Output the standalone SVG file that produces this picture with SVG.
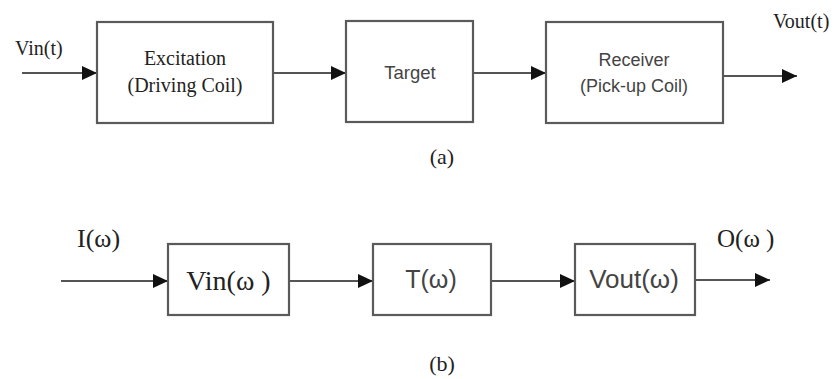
<svg xmlns="http://www.w3.org/2000/svg" width="836" height="379" viewBox="0 0 836 379">
<defs>
<marker id="arr" markerUnits="userSpaceOnUse" markerWidth="16" markerHeight="14" refX="15" refY="7" orient="auto">
<path d="M0,0 L15,7 L0,14 Z" fill="#111"/>
</marker>
<style>
.box{fill:#fff;stroke:#5a5a5a;stroke-width:2.2}
.ln{fill:none;stroke:#555;stroke-width:2.2;marker-end:url(#arr)}
.dk{fill:#222}
.gr{fill:#444}
</style>
</defs>
<rect width="836" height="379" fill="#fff"/>
<g id="connectors">
<line class="ln" x1="22" y1="73" x2="97" y2="73"/>
<line class="ln" x1="273" y1="73" x2="346" y2="73"/>
<line class="ln" x1="473" y1="73" x2="546" y2="73"/>
<line class="ln" x1="723" y1="76" x2="797" y2="76"/>
<line class="ln" x1="61" y1="281" x2="168" y2="281"/>
<line class="ln" x1="289" y1="281" x2="373" y2="281"/>
<line class="ln" x1="491" y1="281" x2="575" y2="281"/>
<line class="ln" x1="695" y1="280" x2="770" y2="280"/>
</g>
<g id="excitation">
<rect class="box" x="97" y="22" width="176" height="101"/>
<text class="dk" font-family="Liberation Serif, Times New Roman, serif" style="font-family:'Liberation Serif','Times New Roman',serif !important" x="185" y="65" font-size="20" text-anchor="middle">Excitation</text>
<text class="dk" font-family="Liberation Serif, Times New Roman, serif" style="font-family:'Liberation Serif','Times New Roman',serif !important" x="185" y="92" font-size="20" text-anchor="middle">(Driving Coil)</text>
</g>
<g id="target">
<rect class="box" x="346" y="21" width="127" height="101"/>
<text class="gr" style="font-family:'Liberation Sans',Arial,sans-serif" x="410" y="79" font-size="18.5" text-anchor="middle">Target</text>
</g>
<g id="receiver">
<rect class="box" x="546" y="22" width="177" height="101"/>
<text class="gr" style="font-family:'Liberation Sans',Arial,sans-serif" x="634" y="66" font-size="18" text-anchor="middle">Receiver</text>
<text class="gr" style="font-family:'Liberation Sans',Arial,sans-serif" x="634" y="92" font-size="18" text-anchor="middle">(Pick-up Coil)</text>
</g>
<g id="labels-a">
<text class="dk" style="font-family:'Liberation Serif','Times New Roman',serif" x="15" y="55" font-size="20">Vin(t)</text>
<text class="dk" style="font-family:'Liberation Serif','Times New Roman',serif" x="773" y="28" font-size="20">Vout(t)</text>
<text class="dk" style="font-family:'Liberation Serif','Times New Roman',serif" x="442" y="164" font-size="22" text-anchor="middle">(a)</text>
</g>
<g id="vin-w">
<rect class="box" x="168" y="244" width="121" height="71"/>
<text class="dk" font-family="Liberation Serif, Times New Roman, serif" style="font-family:'Liberation Serif','Times New Roman',serif !important" x="228.5" y="290" font-size="28" text-anchor="middle">Vin(ω )</text>
</g>
<g id="t-w">
<rect class="box" x="373" y="244" width="118" height="71"/>
<text class="gr" style="font-family:'Liberation Sans',Arial,sans-serif" x="431" y="288" font-size="25" text-anchor="middle">T(ω)</text>
</g>
<g id="vout-w">
<rect class="box" x="575" y="244" width="120" height="71"/>
<text class="gr" style="font-family:'Liberation Sans',Arial,sans-serif" x="634" y="288" font-size="26" text-anchor="middle">Vout(ω)</text>
</g>
<g id="labels-b">
<text class="dk" style="font-family:'Liberation Serif','Times New Roman',serif" x="77" y="247" font-size="26">I(ω)</text>
<text class="dk" style="font-family:'Liberation Serif','Times New Roman',serif" x="717" y="247" font-size="25">O(ω )</text>
<text class="dk" style="font-family:'Liberation Serif','Times New Roman',serif" x="442" y="371" font-size="22" text-anchor="middle">(b)</text>
</g>
</svg>
